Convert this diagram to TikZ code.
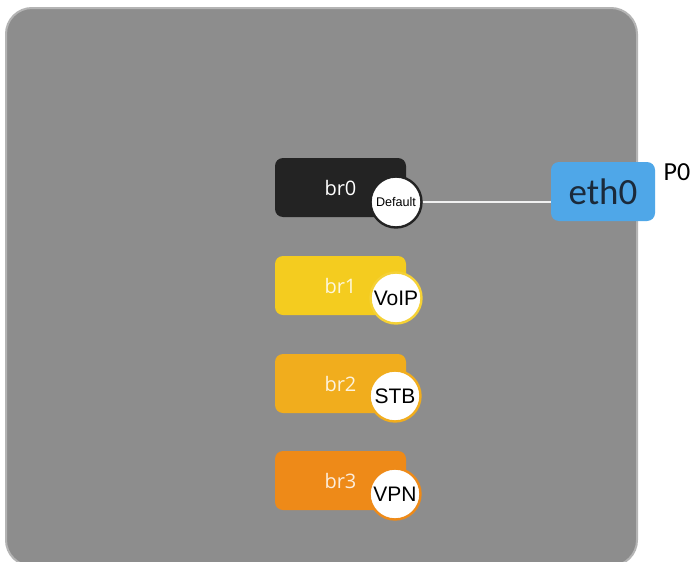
\documentclass[tikz,border=0pt]{standalone}
\usepackage{fontspec}
\setmainfont{Open Sans}
\newfontfamily\ethfont{Carlito}
\newfontfamily\tagfont{Liberation Sans}
\definecolor{panelgray}{HTML}{8D8D8D}
\definecolor{panelrim}{HTML}{B4B4B4}
\definecolor{brblack}{HTML}{232323}
\definecolor{bryellow}{HTML}{F4CC1F}
\definecolor{brgold}{HTML}{F1AD1D}
\definecolor{brorange}{HTML}{EE8A18}
\definecolor{ethblue}{HTML}{4FA7E8}
\definecolor{ethtext}{HTML}{1B2A3A}
\tikzset{
  brbox/.style={rounded corners=4pt, minimum width=65.5pt, minimum height=29.5pt,
    inner sep=0pt, text=white, font=\fontsize{10}{10}\selectfont},
  tag/.style={circle, fill=white, line width=1.2pt, minimum size=25.5pt, inner sep=0pt,
    font=\tagfont\fontsize{10.5}{10.5}\selectfont},
}
\begin{document}
\begin{tikzpicture}[x=0.5pt,y=-0.5pt]
\useasboundingbox (0,0) rectangle (691,562);
\fill[white] (0,0) rectangle (691,562);
\draw[panelrim, fill=panelgray, line width=1pt, rounded corners=13pt] (6,8) rectangle (637,566);
\path
(340.5,187.5) node[brbox, fill=brblack] (br0) {br0}
(340.5,285.5) node[brbox, fill=bryellow, text=white!85!bryellow] (br1) {br1}
(340.5,383.5) node[brbox, fill=brgold, text=white!85!brgold] (br2) {br2}
(340.5,480.5) node[brbox, fill=brorange, text=white!85!brorange] (br3) {br3}
(396,202) node[tag, draw=brblack, font=\tagfont\fontsize{6.3}{7}\selectfont] (default) {Default}
(396,298) node[tag, draw=bryellow!90!white] (voip) {VoIP}
(395,396) node[tag, draw=brgold] (stb) {STB}
(395,494) node[tag, draw=brorange] (vpn) {VPN}
(603,191.5) node[rounded corners=4pt, fill=ethblue, minimum width=52pt, minimum height=29.5pt,
  inner sep=0pt, text=ethtext, font=\ethfont\fontsize{18.5}{19}\selectfont] (eth0) {eth0}
(677,172) node[font=\ethfont\fontsize{13}{13}\selectfont] (p0) {P0};
\coordinate (eth0-in) at (eth0.west |- default);
\draw[white!88!gray, line width=1pt] (default.east) -- (eth0-in);
\end{tikzpicture}
\end{document}
